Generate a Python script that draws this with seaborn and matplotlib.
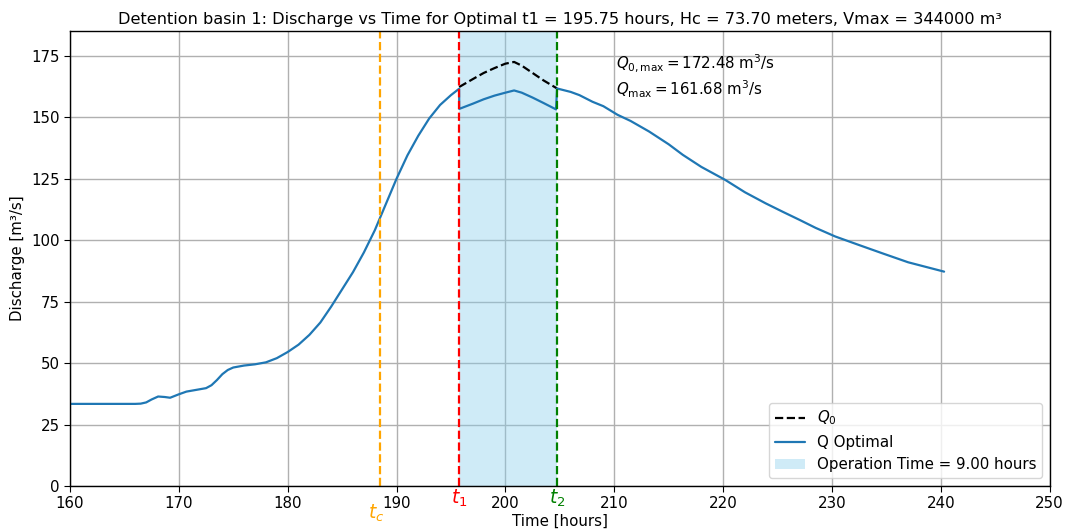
import numpy as np
import pandas as pd
import matplotlib
matplotlib.use("Agg")
import matplotlib.pyplot as plt
import matplotlib.transforms as mtransforms
import seaborn as sns

# ---- data ----
time_opt = [160, 162, 164, 166, 166.5, 167, 167.5, 168.1, 168.7, 169.2, 170, 170.7, 171.6, 172.5,
            173, 173.5, 174, 174.5, 175, 176, 177, 178, 179, 180, 181, 182, 183, 184, 185, 186,
            187, 188, 189, 190, 191, 192, 193, 194, 195, 195.75,
            195.76, 197, 198, 199, 200, 200.8, 201.5, 202.5, 203.5, 204.65,
            204.75, 206, 206.8, 208, 209, 210.3, 211.5, 213.2, 215, 216.3, 218, 220.2, 222,
            223.9, 225.5, 227, 228.5, 230.3, 232.5, 234.6, 237, 240.3]
q_opt = [33.4, 33.4, 33.4, 33.4, 33.5, 34.0, 35.2, 36.4, 36.2, 35.9, 37.3, 38.4, 39.1, 39.8,
         41.0, 43.1, 45.5, 47.2, 48.2, 49.0, 49.5, 50.3, 52.0, 54.5, 57.5, 61.5, 66.5, 73.0,
         80.0, 87.0, 95.0, 104.0, 114.5, 125.0, 134.5, 142.5, 149.5, 155.0, 159.0, 161.6,
         153.4, 155.5, 157.3, 158.8, 160.0, 160.9, 160.0, 158.0, 155.8, 153.2,
         161.7, 160.3, 159.0, 156.3, 154.5, 151.0, 148.5, 144.2, 139.0, 134.7, 129.8, 124.5,
         119.5, 115.0, 111.5, 108.3, 105.0, 101.5, 98.0, 94.7, 91.0, 87.2]

time_q0 = [195.75, 197, 198, 199, 200, 200.8, 201.5, 202.5, 203.5, 204.75]
q0 = [162.3, 165.5, 168.0, 170.0, 171.8, 172.5, 171.0, 168.0, 165.0, 161.7]

t_c = 188.5
t1 = 195.75
t2 = 204.75
q0_max = 172.48
q_max = 161.68
op_time = 9.00

# ---- plotting ----
sns.set_style("ticks")
plt.rcParams['font.family'] = ['DejaVu Sans']
plt.rcParams.update({"text.color": "black", "axes.labelcolor": "black",
                     "xtick.color": "black", "ytick.color": "black"})

FS = 10.8

fig = plt.figure(figsize=(10.7, 5.29), dpi=100)
ax = fig.add_axes([0.0654, 0.0813, 0.9156, 0.8597])

df_opt = pd.DataFrame({"Time": time_opt, "Q": q_opt})
df_q0 = pd.DataFrame({"Time": time_q0, "Q": q0})

ax.axvspan(t1, t2, color="skyblue", alpha=0.4, label=f"Operation Time = {op_time:.2f} hours", lw=0)
sns.lineplot(data=df_q0, x="Time", y="Q", ax=ax, color="black", linestyle="--", lw=1.6,
             label=r"$Q_0$", estimator=None, sort=False)
sns.lineplot(data=df_opt, x="Time", y="Q", ax=ax, color="#1f77b4", lw=1.6,
             label="Q Optimal", estimator=None, sort=False)

ax.axvline(t_c, color="orange", linestyle="--", lw=1.6)
ax.axvline(t1, color="red", linestyle="--", lw=1.6)
ax.axvline(t2, color="green", linestyle="--", lw=1.6)

trans = mtransforms.blended_transform_factory(ax.transData, ax.transAxes)
ax.text(t_c - 0.35, -0.06, r"$t_c$", color="orange", fontsize=13.5, ha="center", va="center", transform=trans)
ax.text(t1, -0.028, r"$t_1$", color="red", fontsize=13.5, ha="center", va="center", transform=trans)
ax.text(t2, -0.028, r"$t_2$", color="green", fontsize=13.5, ha="center", va="center", transform=trans)

ax.text(210.2, 172.0, r"$Q_{0,\max} = $" + f"{q0_max:.2f} " + r"m$^3$/s", fontsize=FS, va="center")
ax.text(210.2, 161.2, r"$Q_{\max} = $" + f"{q_max:.2f} " + r"m$^3$/s", fontsize=FS, va="center")

ax.set_xlim(160, 250)
ax.set_ylim(0, 185)
ax.set_xticks(np.arange(160, 251, 10))
ax.set_yticks(np.arange(0, 176, 25))
ax.tick_params(labelsize=FS, direction="out", length=4, color="black")
ax.grid(True, color="#b0b0b0", lw=1)
for s in ax.spines.values():
    s.set_color("black")
    s.set_linewidth(1)

ax.set_xlabel("Time [hours]", fontsize=FS, labelpad=2)
ax.set_ylabel("Discharge [m³/s]", fontsize=FS)
ax.set_title("Detention basin 1: Discharge vs Time for Optimal t1 = 195.75 hours, Hc = 73.70 meters, Vmax = 344000 m³",
             fontsize=11.6, pad=5)

h, l = ax.get_legend_handles_labels()
order = [l.index(r"$Q_0$"), l.index("Q Optimal"), l.index(f"Operation Time = {op_time:.2f} hours")]
ax.legend([h[i] for i in order], [l[i] for i in order], loc="lower right", fontsize=FS)

fig.savefig("out.png", dpi=100)
